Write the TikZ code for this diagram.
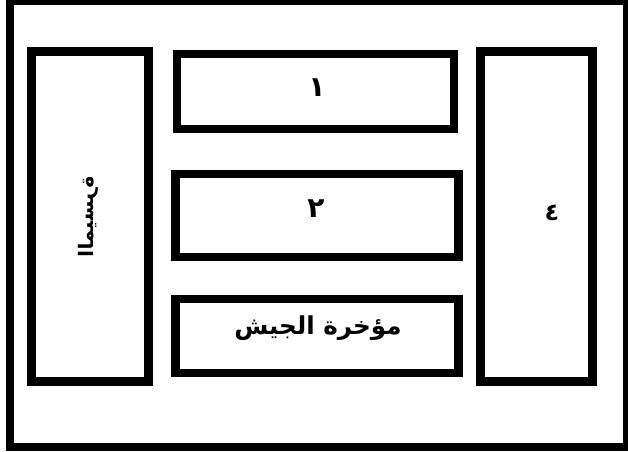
\documentclass[tikz,border=0pt]{standalone}
\usepackage{fontspec}
\usepackage{graphicx}
\TeXXeTstate=1
\newfontfamily\arabicfont[Script=Arabic]{DejaVu Sans}
\tikzset{
  frame/.style={draw=black, line width=6pt, fill=none, inner sep=0pt},
  unit/.style={draw=black, line width=6.4pt, fill=none, inner sep=0pt},
  lbl/.style={inner sep=0pt, font=\arabicfont\bfseries},
}
\begin{document}
\begin{tikzpicture}[x=0.75pt,y=-0.75pt]
\useasboundingbox[fill=white] (0,0) rectangle (628,452);
\node[frame, minimum width=462.75pt, minimum height=334.5pt] (outer) at (318.5,224) {};
\node[unit, minimum width=87.75pt, minimum height=247.5pt] (left) at (90,216.5) {};
\node[unit, minimum width=207.75pt, minimum height=56.25pt] (b1) at (315.5,91.5) {};
\node[unit, minimum width=212.25pt, minimum height=62.25pt] (b2) at (317,215.5) {};
\node[unit, minimum width=212.25pt, minimum height=55.5pt] (b3) at (317,336) {};
\node[unit, minimum width=84pt, minimum height=247.5pt] (right) at (536.5,216.5) {};
\node[lbl, font=\arabicfont\bfseries\fontsize{21}{24}\selectfont] (t1) at (317,88) {\beginR ١\endR};
\node[lbl, font=\arabicfont\bfseries\fontsize{21}{24}\selectfont] (t2) at (316,209) {\beginR ٢\endR};
\node[lbl, font=\arabicfont\bfseries\fontsize{18.5}{22}\selectfont] (t3) at (318,328) {\beginR مؤخرة الجيش\endR};
\node[lbl, font=\arabicfont\bfseries\fontsize{18}{22}\selectfont] (t4) at (552,213) {\beginR ٤\endR};
\node[lbl, font=\arabicfont\bfseries\fontsize{15}{18}\selectfont] (tl) at (88,217) {\rotatebox{90}{\reflectbox{\beginR الميسرة\endR}}};
\end{tikzpicture}
\end{document}
